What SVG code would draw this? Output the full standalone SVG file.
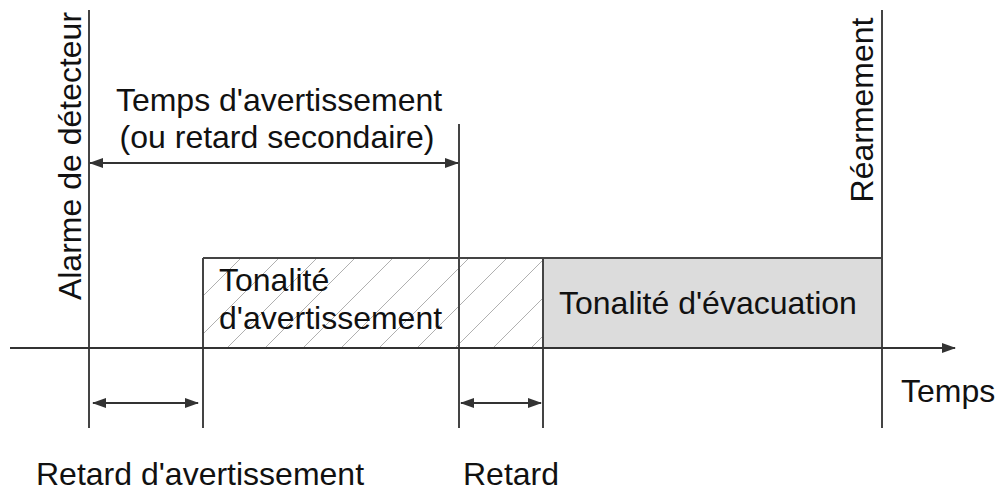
<svg xmlns="http://www.w3.org/2000/svg" width="1003" height="496" viewBox="0 0 1003 496">
<style>
.t{font-family:"Liberation Sans",Arial,sans-serif;font-size:32px;fill:#111}
.ln{stroke:#444;stroke-width:2;fill:none}
.ar{stroke:#333;stroke-width:2;fill:none}
</style>
<defs>
<marker id="ah" markerWidth="14" markerHeight="10" refX="13" refY="5" orient="auto-start-reverse" markerUnits="userSpaceOnUse">
<path d="M0,0 L14,5 L0,10 Z" fill="#333"/>
</marker>
<pattern id="hatch" patternUnits="userSpaceOnUse" width="38" height="38" x="203" y="258">
<path d="M0,38 L38,0 M-10,10 L10,-10 M28,48 L48,28" stroke="#b0b0b0" stroke-width="1"/>
</pattern>
</defs>
<rect width="1003" height="496" fill="#fff"/>
<g id="warning-tone">
<rect x="203" y="258" width="340" height="90" fill="url(#hatch)"/>
<text class="t" x="219" y="291">Tonalité</text>
<text class="t" x="219" y="329">d'avertissement</text>
</g>
<g id="evacuation-tone">
<rect x="543" y="258" width="339" height="90" fill="#dcdcdc"/>
<text class="t" x="559" y="314">Tonalité d'évacuation</text>
</g>
<g id="lines">
<line class="ln" x1="203" y1="258" x2="882" y2="258"/>
<line class="ln" x1="89" y1="10" x2="89" y2="428"/>
<line class="ln" x1="203" y1="258" x2="203" y2="428"/>
<line class="ln" x1="459" y1="124" x2="459" y2="428"/>
<line class="ln" x1="543" y1="258" x2="543" y2="428"/>
<line class="ln" x1="882" y1="10" x2="882" y2="428"/>
</g>
<g id="connectors">
<line class="ar" x1="10" y1="348" x2="955" y2="348" marker-end="url(#ah)"/>
<line class="ar" x1="90" y1="163" x2="458" y2="163" marker-start="url(#ah)" marker-end="url(#ah)"/>
<line class="ar" x1="93" y1="403" x2="198" y2="403" marker-start="url(#ah)" marker-end="url(#ah)"/>
<line class="ar" x1="461" y1="403" x2="541" y2="403" marker-start="url(#ah)" marker-end="url(#ah)"/>
</g>
<g id="labels">
<text class="t" text-anchor="middle" x="279" y="111">Temps d'avertissement</text>
<text class="t" text-anchor="middle" x="277" y="148">(ou retard secondaire)</text>
<text class="t" text-anchor="middle" transform="translate(81,156) rotate(-90)">Alarme de détecteur</text>
<text class="t" text-anchor="middle" transform="translate(873,110) rotate(-90)">Réarmement</text>
<text class="t" x="901" y="402">Temps</text>
<text class="t" x="36" y="485">Retard d'avertissement</text>
<text class="t" x="463" y="485">Retard</text>
</g>
</svg>
